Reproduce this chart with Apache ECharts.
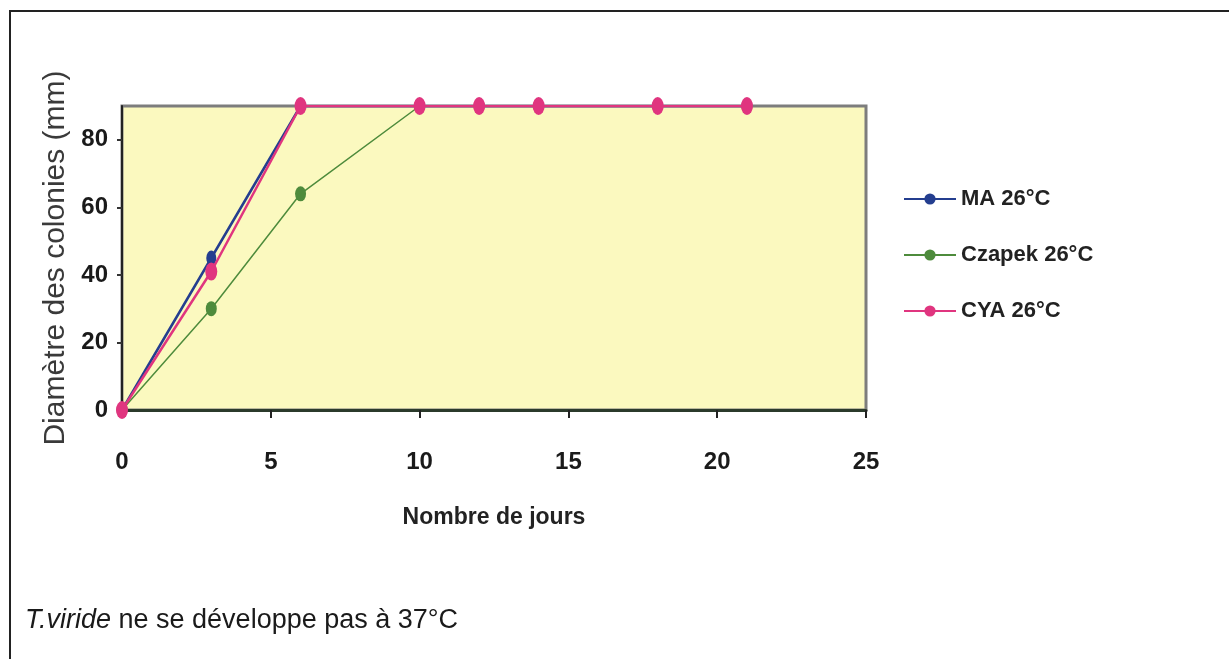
<!DOCTYPE html>
<html>
<head>
<meta charset="utf-8">
<script src="https://cdn.jsdelivr.net/npm/echarts@6/dist/echarts.min.js"></script>
<style>
  html, body { margin: 0; padding: 0; background: #fff; }
  #chart { width: 1229px; height: 659px; }
</style>
</head>
<body>
<div id="chart"></div>
<script>
// jours de mesure
const days = [0, 3, 6, 10, 12, 14, 18, 21]
// diamètre des colonies (mm)
const maValues = [0, 45, 90, 90, 90, 90, 90, 90]
const czapekValues = [0, 30, 64, 90, 90, 90, 90, 90]
const cyaValues = [0, 41, 90, 90, 90, 90, 90, 90]
const seriesNames = ['MA 26°C', 'Czapek 26°C', 'CYA 26°C']
const xTicks = [0, 5, 10, 15, 20, 25]
const yTicks = [0, 20, 40, 60, 80]

const narrow = '"Liberation Sans Narrow", "Arial Narrow", "Liberation Sans", sans-serif'
const pairs = vals => days.map((d, i) => [d, vals[i]])

const chart = echarts.init(document.getElementById('chart'))

chart.setOption({
  backgroundColor: '#ffffff',
  animation: false,
  title: {
    text: '{i|T.viride} ne se développe pas à 37°C',
    left: 20,
    top: 602,
    textStyle: {
      fontFamily: '"Liberation Sans", Arial, sans-serif',
      fontSize: 27,
      fontWeight: 'normal',
      color: '#1a1a1a',
      rich: {
        i: {
          fontFamily: '"Liberation Sans", Arial, sans-serif',
          fontSize: 27,
          fontStyle: 'italic',
          color: '#1a1a1a'
        }
      }
    }
  },
  graphic: [
    {
      type: 'polyline',
      shape: { points: [[10, 659], [10, 11], [1229, 11]] },
      style: { stroke: '#222', lineWidth: 2, fill: null }
    }
  ],
  legend: {
    orient: 'vertical',
    left: 898,
    top: 182,
    itemWidth: 52,
    itemHeight: 14,
    itemGap: 32,
    textStyle: {
      fontFamily: narrow,
      fontWeight: 'bold',
      fontSize: 22,
      color: '#222',
      lineHeight: 24
    },
    data: seriesNames
  },
  grid: {
    left: 122,
    right: 363,
    top: 106,
    bottom: 249,
    show: true,
    backgroundColor: '#fbf9bf',
    borderColor: '#7d7d7d',
    borderWidth: 3
  },
  xAxis: {
    type: 'value',
    min: 0,
    max: 25,
    interval: 5,
    name: 'Nombre de jours',
    nameLocation: 'middle',
    nameGap: 96,
    nameTextStyle: {
      fontFamily: narrow,
      fontWeight: 'bold',
      fontSize: 23,
      color: '#222'
    },
    splitLine: { show: false },
    axisLine: { lineStyle: { color: '#2b3a2b', width: 3 } },
    axisTick: { length: 8, lineStyle: { color: '#222', width: 2 } },
    axisLabel: {
      margin: 40,
      fontFamily: narrow,
      fontWeight: 'bold',
      fontSize: 24,
      color: '#1a1a1a',
      customValues: xTicks
    }
  },
  yAxis: {
    type: 'value',
    min: 0,
    max: 90,
    interval: 20,
    name: 'Diamètre des colonies (mm)',
    nameLocation: 'middle',
    nameGap: 46,
    nameTextStyle: {
      fontFamily: '"Liberation Sans", Arial, sans-serif',
      fontSize: 30,
      color: '#3a3a3a'
    },
    splitLine: { show: false },
    axisLine: { show: true, lineStyle: { color: '#222', width: 2 } },
    axisTick: { length: 5, lineStyle: { color: '#333', width: 2 } },
    axisLabel: {
      margin: 14,
      showMaxLabel: false,
      fontFamily: narrow,
      fontWeight: 'bold',
      fontSize: 24,
      color: '#1a1a1a',
      formatter: v => (yTicks.includes(v) ? String(v) : '')
    }
  },
  series: [
    {
      name: seriesNames[0],
      type: 'line',
      data: pairs(maValues),
      symbol: 'circle',
      symbolSize: [10, 15],
      lineStyle: { color: '#243e8f', width: 2.5 },
      itemStyle: { color: '#243e8f' },
      z: 2
    },
    {
      name: seriesNames[1],
      type: 'line',
      data: pairs(czapekValues),
      symbol: 'circle',
      symbolSize: [11, 15],
      lineStyle: { color: '#4e8b3c', width: 1.5 },
      itemStyle: { color: '#4e8b3c' },
      z: 3
    },
    {
      name: seriesNames[2],
      type: 'line',
      data: pairs(cyaValues),
      symbol: 'circle',
      symbolSize: [12, 18],
      lineStyle: { color: '#e0357f', width: 2.5 },
      itemStyle: { color: '#e0357f' },
      z: 4
    }
  ]
})
</script>
</body>
</html>
